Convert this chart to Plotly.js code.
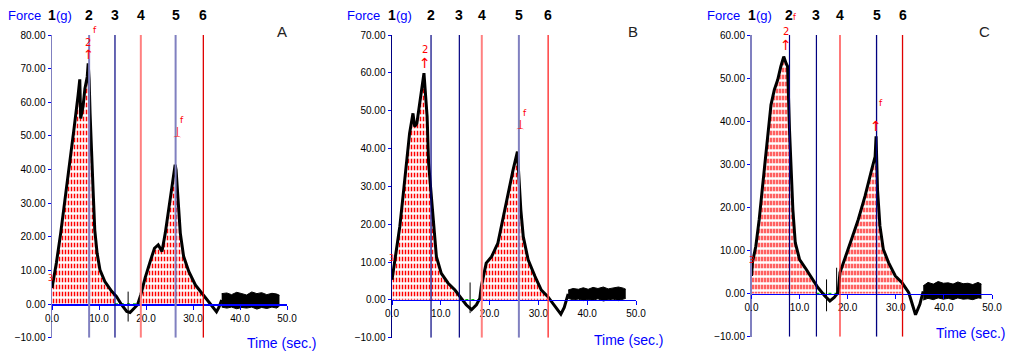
<!DOCTYPE html>
<html>
<head>
<meta charset="utf-8">
<script src="https://cdn.plot.ly/plotly-3.0.1.min.js"></script>
<style>
  html, body { margin: 0; padding: 0; background: #fff; }
  #chart { width: 1009px; height: 354px; }
</style>
</head>
<body>
<div id="chart"></div>
<script>
// ---------------- DATA ----------------
const panelNames = ['A', 'B', 'C'];
const lineLabels = ['1', '2', '3', '4', '5', '6'];
const xTickVals = [0, 10, 20, 30, 40, 50];
const yRangeA = [-10, 80];
const yRangeB = [-10, 70];
const yRangeC = [-10, 60];

// Panel A force curve (time s, force g)
const timeA  = [0, 0.93, 1.85, 2.85, 3.77, 4.7, 5.56, 5.91, 6.1, 6.6, 7.0, 7.5, 7.7, 7.9, 8.1, 8.4, 8.8, 9.1, 9.6, 10.2, 11.25, 12.7, 13.7, 14.8, 15.9, 16.6, 17.3, 18.2, 18.9, 19.8, 20.9, 21.8, 22.6, 23.4, 24.1, 24.9, 25.7, 26.2, 26.4, 26.8, 27.3, 28.0, 29.1, 30.5, 31.9, 33.0, 34.0, 35.0, 35.5, 36.1];
const forceA = [4.8, 12.2, 21.1, 31.5, 41.9, 52.3, 62.2, 66.8, 55.2, 58.7, 64.0, 67.6, 71.6, 66.6, 56.7, 43.9, 32.0, 22.0, 15.1, 10.2, 6.7, 3.8, 2.3, -0.2, -2.2, -2.5, -1.5, -0.2, 2.8, 7.7, 12.7, 16.6, 17.6, 15.6, 21.1, 29.0, 35.9, 41.4, 39.9, 30.0, 21.1, 14.2, 9.7, 5.7, 3.3, 1.5, -0.5, -2.3, -1.0, 1.2];
const tailTimeA  = [36.1, 37.2, 38.2, 39.3, 40.4, 41.4, 42.5, 43.6, 44.6, 45.7, 46.8, 47.8, 48.4];
const tailUpperA = [3.1, 3.3, 2.8, 3.5, 3.1, 2.7, 3.6, 3.1, 3.4, 2.8, 3.2, 3.0, 2.6];
const tailLowerA = [-0.9, -1.2, -0.9, -1.4, -1.0, -1.2, -0.9, -1.5, -1.0, -1.3, -0.9, -1.2, -0.6];
const spikeTimeA = [16.2];
const spikeLowA  = [-5.2];
const spikeHighA = [3.7];
const eventsA = [7.9, 13.4, 18.9, 26.3, 32.2];

// Panel B
const timeB  = [0, 0.9, 1.6, 2.25, 2.9, 3.6, 4.3, 4.65, 5.1, 5.7, 6.15, 6.55, 6.8, 7.2, 7.5, 7.9, 8.4, 9.1, 10.1, 11.5, 12.9, 13.9, 15.2, 16.3, 17.3, 18.0, 18.3, 19.3, 20.4, 21.7, 22.8, 23.8, 24.8, 25.7, 26.0, 26.4, 26.9, 27.9, 29.3, 30.6, 31.9, 33.0, 34.6, 35.3, 36.1];
const forceB = [5.3, 13.2, 19.4, 27.3, 36.1, 44.0, 49.3, 45.8, 46.7, 51.9, 56.3, 59.9, 55.5, 48.4, 36.1, 29.9, 20.2, 11.4, 7.0, 4.4, 2.6, 0.9, -1.3, -2.6, -1.3, 0.4, 3.5, 9.7, 11.4, 15.0, 22.0, 28.2, 34.3, 39.2, 31.7, 23.8, 16.7, 10.6, 6.2, 2.6, 0.9, -1.0, -3.8, -2.0, 1.6];
const tailTimeB  = [36.1, 37.1, 38.2, 39.2, 40.2, 41.2, 42.2, 43.3, 44.3, 45.3, 46.4, 47.4, 47.9];
const tailUpperB = [2.6, 3.0, 2.8, 3.2, 2.8, 3.3, 3.0, 3.4, 2.9, 3.2, 3.4, 3.1, 2.8];
const tailLowerB = [0.4, 0.0, 0.2, -0.2, 0.1, -0.1, 0.3, -0.3, 0.0, 0.2, -0.2, 0.1, 0.4];
const spikeTimeB = [16.0];
const spikeLowB  = [-3.5];
const spikeHighB = [4.6];
const eventsB = [8.0, 13.8, 18.4, 26.0, 32.0];

// Panel C
const timeC  = [0, 0.2, 0.9, 1.6, 2.3, 3.0, 3.7, 4.05, 4.75, 5.45, 6.1, 6.7, 7.2, 7.5, 7.9, 8.2, 8.6, 9.1, 10.0, 11.4, 12.8, 13.8, 15.2, 16.3, 17.2, 18.0, 18.4, 19.4, 20.8, 22.2, 23.6, 25.0, 25.7, 25.9, 26.2, 26.7, 27.4, 28.5, 29.9, 31.3, 32.7, 34.1, 35.0, 35.7];
const forceC = [4.1, 7.2, 11.0, 17.2, 24.9, 32.6, 40.3, 43.8, 47.3, 49.6, 52.7, 55.0, 53.4, 52.7, 38.0, 28.8, 19.5, 11.8, 7.9, 5.6, 3.3, 1.4, -0.5, -1.7, -0.9, 0.2, 4.9, 7.9, 12.6, 17.2, 22.6, 28.8, 31.8, 36.5, 24.1, 15.7, 10.3, 7.2, 4.1, 2.5, 0.2, -4.9, -2.5, 0.5];
const tailTimeC  = [35.7, 36.7, 37.8, 38.8, 39.9, 40.9, 41.9, 42.9, 44.0, 45.0, 46.0, 47.1, 47.8];
const tailUpperC = [1.8, 2.6, 2.2, 2.8, 2.4, 2.5, 2.2, 2.7, 2.3, 2.4, 2.1, 2.6, 2.2];
const tailLowerC = [-1.5, -1.1, -1.4, -1.0, -1.3, -1.1, -1.4, -1.0, -1.3, -1.2, -1.4, -1.0, -1.1];
const spikeTimeC = [15.6, 17.7];
const spikeLowC  = [-4.1, 0.0];
const spikeHighC = [3.3, 6.0];
const eventsC = [7.9, 13.5, 18.4, 26.0, 31.4];

// ---------------- LAYOUT / STYLE ----------------
const W = 1009, H = 354;
const fx = p => p / W;
const fy = p => 1 - p / H;

const panels = [
  { name: panelNames[0], t: timeA, f: forceA, tt: tailTimeA, tu: tailUpperA, tl: tailLowerA, ev: eventsA, yr: yRangeA,
    st: spikeTimeA, sl: spikeLowA, sh: spikeHighA,
    px0: 52, px1: 287, pyTop: 35, pyBot: 337.7, axisColor: '#8080c0',
    evColors: ['#8080c0', '#000080', '#ff8080', '#8080c0', '#e00000'], evWidths: [2, 1.2, 2, 2, 1.3],
    forcePos: [24, 64], letter: [282, 31], timePos: [281, 343], timeAnchor: 'center',
    marks: [[95, 30, 'f', 9], [88, 42, '2', 10], [88, 55, '↑', 13], [182, 120, 'f', 9], [177, 131, '|', 9], [177, 140, '⌒', 10], [50, 278, '3', 8]] },
  { name: panelNames[1], t: timeB, f: forceB, tt: tailTimeB, tu: tailUpperB, tl: tailLowerB, ev: eventsB, yr: yRangeB,
    st: spikeTimeB, sl: spikeLowB, sh: spikeHighB,
    px0: 392, px1: 636, pyTop: 35, pyBot: 337.7, axisColor: '#000080',
    evColors: ['#000080', '#000080', '#ff8080', '#8080c0', '#ff4040'], evWidths: [1.2, 1.2, 2, 2, 1.5],
    forcePos: [363, 404], letter: [633, 31], timePos: [628, 340], timeAnchor: 'center',
    marks: [[425, 49, '2', 10], [425, 63, '↑', 14], [525, 113, 'f', 9], [520, 124, '|', 9], [520, 132, '⌒', 10], [391, 258, '3', 8]] },
  { name: panelNames[2], t: timeC, f: forceC, tt: tailTimeC, tu: tailUpperC, tl: tailLowerC, ev: eventsC, yr: yRangeC,
    st: spikeTimeC, sl: spikeLowC, sh: spikeHighC,
    px0: 751.5, px1: 992, pyTop: 35, pyBot: 336.7, axisColor: '#8080c0',
    evColors: ['#000080', '#000080', '#ff3030', '#000080', '#e00000'], evWidths: [1.2, 1.2, 1.3, 1.3, 1.3],
    forcePos: [723, 764], letter: [984, 31], timePos: [1007, 333], timeAnchor: 'right',
    marks: [[786, 31, '2', 10], [786, 45, '↑', 14], [794, 18, 'f', 8], [881, 103, 'f', 9], [876, 126, '↑', 14], [751, 260, '3', 8]] }
];

function interp(t, f, x) {
  for (let i = 0; i < t.length - 1; i++) {
    if (x >= t[i] && x <= t[i + 1]) {
      const r = (x - t[i]) / (t[i + 1] - t[i]);
      return f[i] + r * (f[i + 1] - f[i]);
    }
  }
  return 0;
}
function region(t, f, a, b) {
  const xs = [a], ys = [Math.max(0, interp(t, f, a))];
  for (let i = 0; i < t.length; i++) {
    if (t[i] > a && t[i] < b) { xs.push(t[i]); ys.push(Math.max(0, f[i])); }
  }
  xs.push(b); ys.push(Math.max(0, interp(t, f, b)));
  return { xs, ys };
}

const fontTick = 'Liberation Sans Narrow, Liberation Sans, Arial, sans-serif';
const traces = [];
const layout = {
  width: W, height: H,
  margin: { l: 0, r: 0, t: 0, b: 0 },
  paper_bgcolor: '#ffffff', plot_bgcolor: '#ffffff',
  showlegend: false,
  shapes: [], annotations: []
};

panels.forEach((p, k) => {
  const sx = k === 0 ? '' : String(k + 1);
  const xa = 'x' + sx, ya = 'y' + sx;
  const ymin = p.yr[0], ymax = p.yr[1];
  const y0px = p.pyBot - (0 - ymin) / (ymax - ymin) * (p.pyBot - p.pyTop);

  layout['xaxis' + sx] = {
    domain: [fx(p.px0), fx(p.px1)], range: [0, 50], anchor: 'free', position: fy(y0px),
    showgrid: false, zeroline: false, showline: true, linecolor: '#0000ff', linewidth: 1.5,
    ticks: 'outside', ticklen: 4, tickcolor: '#0000ff', tickwidth: 1,
    tickvals: xTickVals, ticktext: xTickVals.map(v => v.toFixed(1)),
    tickfont: { family: fontTick, size: 10, color: '#000' }, fixedrange: true
  };
  layout['yaxis' + sx] = {
    domain: [fy(p.pyBot), fy(p.pyTop)], range: [ymin, ymax], anchor: xa,
    showgrid: false, zeroline: false, showline: true, linecolor: p.axisColor, linewidth: 1.5,
    ticks: 'outside', ticklen: 3, tickcolor: '#0000ff', tickwidth: 1, dtick: 10, tick0: 0,
    tickformat: '.2f', tickfont: { family: fontTick, size: 10, color: '#000' }, fixedrange: true
  };

  // hatched areas: line1->line3 and line4->line6
  const regs = [region(p.t, p.f, 0, p.ev[1]), region(p.t, p.f, p.ev[2], p.ev[4])];
  regs.forEach(r => {
    traces.push({ x: r.xs, y: r.ys, xaxis: xa, yaxis: ya, type: 'scatter', mode: 'none', fill: 'tozeroy',
      fillcolor: 'rgba(0,0,0,0)', hoverinfo: 'skip',
      fillpattern: { shape: '|', fgcolor: '#ff0000', bgcolor: 'rgba(0,0,0,0)', size: 3, solidity: 0.5 } });
    traces.push({ x: r.xs, y: r.ys, xaxis: xa, yaxis: ya, type: 'scatter', mode: 'none', fill: 'tozeroy',
      fillcolor: 'rgba(0,0,0,0)', hoverinfo: 'skip',
      fillpattern: { shape: '-', fgcolor: '#ffffff', bgcolor: 'rgba(0,0,0,0)', size: 7, solidity: 0.35 } });
  });

  // green baseline between line 3 and line 4
  traces.push({ x: [p.ev[1], p.ev[2]], y: [0, 0], xaxis: xa, yaxis: ya, type: 'scatter', mode: 'lines',
    line: { color: '#00c000', width: 1.5, dash: 'dot' }, hoverinfo: 'skip' });

  // thin spikes in the valley
  const sxs = [], sys = [];
  p.st.forEach((t, i) => { sxs.push(t, t, null); sys.push(p.sl[i], p.sh[i], null); });
  traces.push({ x: sxs, y: sys, xaxis: xa, yaxis: ya, type: 'scatter', mode: 'lines',
    line: { color: '#000000', width: 1 }, hoverinfo: 'skip' });

  // main curve
  traces.push({ x: p.t, y: p.f, xaxis: xa, yaxis: ya, type: 'scatter', mode: 'lines',
    line: { color: '#000000', width: 3 }, hoverinfo: 'skip' });
  // noisy tail envelope
  traces.push({ x: p.tt, y: p.tl, xaxis: xa, yaxis: ya, type: 'scatter', mode: 'lines',
    line: { color: '#000000', width: 1 }, hoverinfo: 'skip' });
  traces.push({ x: p.tt, y: p.tu, xaxis: xa, yaxis: ya, type: 'scatter', mode: 'lines', fill: 'tonexty',
    fillcolor: '#000000', line: { color: '#000000', width: 1 }, hoverinfo: 'skip' });

  // event lines 2..6
  p.ev.forEach((e, i) => {
    layout.shapes.push({ type: 'line', xref: xa, yref: ya, x0: e, x1: e, y0: ymin, y1: ymax,
      line: { color: p.evColors[i], width: p.evWidths[i] }, layer: 'above' });
  });

  // numbers above lines
  const lineTimes = [0].concat(p.ev);
  lineTimes.forEach((e, i) => {
    const xpx = p.px0 + e / 50 * (p.px1 - p.px0);
    layout.annotations.push({ xref: 'paper', yref: 'paper', x: fx(xpx), y: fy(15), xanchor: 'center', yanchor: 'middle',
      text: lineLabels[i], showarrow: false, font: { family: 'Liberation Sans, Arial, sans-serif', size: 14, color: '#000', weight: 'bold' } });
  });

  // Force (g) label
  layout.annotations.push({ xref: 'paper', yref: 'paper', x: fx(p.forcePos[0]), y: fy(15), xanchor: 'center', yanchor: 'middle',
    text: 'Force', showarrow: false, font: { family: fontTick, size: 13, color: '#0000ff' } });
  layout.annotations.push({ xref: 'paper', yref: 'paper', x: fx(p.forcePos[1]), y: fy(15), xanchor: 'center', yanchor: 'middle',
    text: '(g)', showarrow: false, font: { family: fontTick, size: 13, color: '#0000ff' } });
  // Time label
  layout.annotations.push({ xref: 'paper', yref: 'paper', x: fx(p.timePos[0]), y: fy(p.timePos[1]), xanchor: p.timeAnchor, yanchor: 'middle',
    text: 'Time (sec.)', showarrow: false, font: { family: fontTick, size: 14, color: '#0000ff' } });
  // panel letter
  layout.annotations.push({ xref: 'paper', yref: 'paper', x: fx(p.letter[0]), y: fy(p.letter[1]), xanchor: 'center', yanchor: 'middle',
    text: p.name, showarrow: false, font: { family: fontTick, size: 15, color: '#222' } });
  // red markers
  p.marks.forEach(m => {
    layout.annotations.push({ xref: 'paper', yref: 'paper', x: fx(m[0]), y: fy(m[1]), xanchor: 'center', yanchor: 'middle',
      text: m[2], showarrow: false, font: { family: 'DejaVu Sans, sans-serif', size: m[3], color: '#ff0000' } });
  });
});

Plotly.newPlot('chart', traces, layout, { staticPlot: true, displayModeBar: false });
</script>
</body>
</html>
